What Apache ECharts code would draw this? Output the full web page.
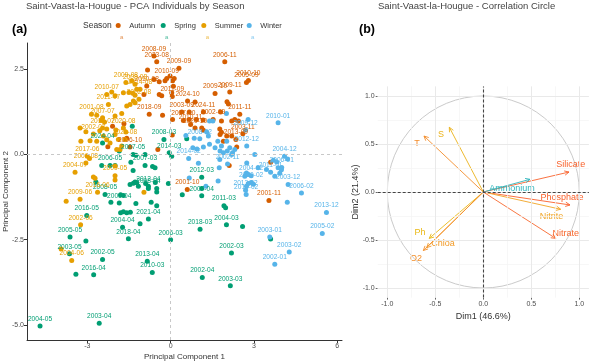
<!DOCTYPE html>
<html>
<head>
<meta charset="utf-8">
<script src="https://cdn.jsdelivr.net/npm/echarts@6/dist/echarts.min.js"></script>
<style>
html, body { margin: 0; padding: 0; background: #fff; }
#chart { width: 589px; height: 364px; }
</style>
</head>
<body>
<div id="chart"></div>
<script>
// PCA individuals: [PC1, PC2, label]
const seasons = ['Autumn', 'Spring', 'Summer', 'Winter'];

const autumnPts = [
  [-0.60, 2.89, '2008-09'], [-0.50, 2.72, '2023-08'], [-0.83, 2.48, ''], [0.30, 2.53, '2009-09'],
  [1.95, 2.72, '2006-11'], [-0.60, 2.20, ''], [-0.41, 2.13, ''], [-0.20, 2.16, ''],
  [-0.14, 2.23, '2010-09'], [-0.02, 2.30, ''], [0.07, 2.16, ''], [0.13, 2.23, ''],
  [-0.86, 2.01, '2010-08'], [0.10, 2.00, ''], [0.04, 1.81, ''], [0.06, 1.70, '2011-09'],
  [-0.96, 1.76, ''], [-0.41, 1.76, ''], [-0.32, 1.72, ''], [-0.77, 1.18, '2018-09'],
  [-0.29, 1.15, ''], [0.07, 1.03, ''], [-1.68, 0.90, ''], [-2.09, 0.83, ''],
  [-1.58, 0.48, ''], [-2.26, 0.23, ''], [-1.46, 0.22, '2006-10'], [-0.46, 0.15, ''],
  [0.06, 0.57, ''], [2.73, 2.11, '2005-09'], [2.80, 2.17, '2010-10'], [1.60, 1.79, '2009-10'],
  [2.13, 1.83, '2009-11'], [2.03, 1.55, ''], [2.08, 1.48, ''], [0.61, 1.57, '2024-10'],
  [0.88, 1.54, ''], [0.40, 1.25, '2003-09'], [0.67, 1.25, ''], [1.18, 1.25, '2024-11'],
  [1.80, 1.25, ''], [2.49, 1.18, '2011-11'], [2.44, 0.98, ''], [0.46, 1.00, '2007-10'],
  [0.67, 1.03, ''], [0.72, 0.88, '2010-11'], [0.93, 1.03, ''], [1.17, 1.01, ''],
  [1.53, 1.03, '2002-09'], [1.83, 0.98, ''], [2.20, 0.98, ''], [2.31, 1.03, ''],
  [0.88, 0.78, '2020-10'], [1.12, 0.78, ''], [1.18, 0.71, ''], [1.77, 0.75, ''],
  [1.83, 0.65, ''], [2.60, 0.61, '2003-11'], [1.78, 0.59, ''], [2.02, 0.54, ''],
  [2.20, 0.54, ''], [2.35, 0.44, '2013-09'], [2.38, 0.22, ''], [1.90, 0.39, ''],
  [2.11, -0.32, ''], [3.60, -0.23, ''], [0.60, -1.03, '2001-10'], [3.54, -1.35, '2001-11']
];

const springPts = [
  [-1.38, 0.83, ''], [-2.45, 0.34, '2024-04'], [-1.85, 0.10, ''], [-1.35, 0.00, '2007-05'],
  [-1.25, -0.02, ''], [-0.92, 0.00, ''], [-0.24, 0.44, '2008-03'], [-0.05, 0.05, '2014-03'],
  [0.04, -0.05, ''], [0.58, 0.46, ''], [-2.48, -0.32, ''], [-2.18, -0.32, '2006-05'],
  [-2.00, -0.32, ''], [-1.43, -0.23, ''], [-1.35, -0.47, ''], [-0.92, -0.32, '2007-03'],
  [-0.65, -0.35, ''], [-0.56, -0.39, ''], [-1.28, -0.81, ''], [-1.22, -0.83, ''],
  [-1.46, -0.88, ''], [-1.16, -0.93, ''], [-0.80, -0.93, '2012-04'], [-0.90, -0.85, ''],
  [-0.50, -1.00, ''], [-0.55, -0.82, ''], [-2.69, -0.81, ''], [-1.34, -0.84, ''],
  [-0.80, -1.00, '2008-04'], [-0.50, -1.10, ''], [-0.08, -0.85, ''], [-2.36, -1.17, '2008-05'],
  [-1.80, -1.18, ''], [-1.70, -1.20, ''], [-1.25, -1.44, ''], [-2.15, -1.40, ''],
  [-1.85, -1.42, '2006-04'], [-0.70, -1.40, ''], [-0.50, -1.50, ''], [-1.80, -1.71, ''],
  [-1.70, -1.68, ''], [-1.58, -1.71, ''], [-1.45, -1.69, ''], [-0.80, -1.89, '2021-04'],
  [-1.10, -2.03, ''], [-1.73, -2.13, '2004-04'], [-3.02, -1.79, '2016-05'], [-3.62, -2.42, '2005-05'],
  [-3.05, -2.54, ''], [-3.64, -2.91, '2003-05'], [-1.52, -2.47, '2018-04'], [0.00, -2.50, '2006-03'],
  [-2.45, -3.08, '2002-05'], [-3.41, -3.51, ''], [-2.77, -3.53, '2016-04'], [-0.84, -3.13, '2013-04'],
  [-0.66, -3.46, '2010-03'], [-4.70, -5.03, '2004-05'], [-2.57, -4.95, '2003-04'], [0.42, -1.18, ''],
  [1.12, -1.21, '2007-04'], [1.92, -1.50, '2011-03'], [1.98, -1.56, ''], [2.01, -2.06, '2004-03'],
  [2.59, -2.11, ''], [1.06, -2.19, '2018-03'], [3.60, -2.48, ''], [2.19, -2.89, '2002-03'],
  [1.14, -3.61, '2002-04'], [2.15, -3.85, '2003-03'], [1.12, -0.67, '2012-03'], [1.12, -1.00, '']
];

const summerPts = [
  [-1.61, 2.11, '2009-08'], [-1.40, 2.16, ''], [-1.28, 2.06, '2008-08'], [-1.70, 1.81, ''],
  [-1.50, 1.82, ''], [-1.36, 1.80, ''], [-2.30, 1.76, '2010-07'], [-2.12, 1.83, ''],
  [-2.00, 1.72, ''], [-1.28, 1.74, ''], [-1.22, 1.91, ''], [-1.10, 1.91, '2014-08'],
  [-1.34, 1.57, ''], [-1.28, 1.52, ''], [-1.14, 1.62, '2002-08'], [-2.24, 1.47, '2011-07'],
  [-1.58, 1.42, ''], [-1.46, 1.47, ''], [-1.76, 1.20, ''], [-2.85, 1.18, '2001-08'],
  [-2.66, 1.15, ''], [-2.50, 1.00, ''], [-2.38, 0.95, ''], [-2.45, 1.08, '2007-07'],
  [-2.00, 1.13, ''], [-2.45, 0.78, '2012-07'], [-2.30, 0.75, ''], [-2.55, 0.70, ''],
  [-3.26, 0.78, ''], [-3.05, 0.67, ''], [-2.78, 0.60, '2002-07'], [-2.42, 0.54, ''],
  [-2.00, 0.59, ''], [-1.97, 0.72, ''], [-1.70, 0.78, '2020-08'], [-1.61, 0.66, ''],
  [-1.88, 0.44, ''], [-1.64, 0.44, '2021-08'], [-3.23, 0.39, ''], [-2.90, 0.40, ''],
  [-2.66, 0.39, ''], [-2.30, 0.43, ''], [-2.18, 0.34, ''], [-1.76, 0.25, ''],
  [-1.94, 0.15, ''], [-1.82, 0.15, ''], [-3.00, -0.05, '2017-06'], [-2.92, -0.12, ''],
  [-3.05, -0.25, '2006-08'], [-3.44, -0.52, '2004-07'], [-2.78, -0.66, ''], [-2.72, -0.70, ''],
  [-2.00, -0.34, ''], [-2.00, -0.62, '2009-05'], [-2.00, -0.75, ''], [-2.63, -1.11, '2016-06'],
  [-3.26, -1.31, '2009-06'], [-3.76, -1.37, ''], [-3.24, -2.06, '2002-06'], [-3.94, -2.77, ''],
  [-3.56, -3.11, '2004-06'], [-0.96, -1.11, '']
];

const winterPts = [
  [3.87, 0.93, '2010-01'], [2.79, 1.03, ''], [2.70, 0.72, '2009-12'], [2.01, 1.20, ''],
  [1.40, 0.98, ''], [1.52, 0.98, ''], [0.55, 0.56, ''], [0.85, 0.48, ''],
  [1.05, 0.46, '2008-02'], [1.30, 0.66, ''], [1.36, 0.54, ''], [1.70, 0.39, ''],
  [1.83, 0.25, ''], [1.60, 0.20, ''], [1.78, 0.10, ''], [1.90, 0.05, ''],
  [2.02, 0.39, ''], [2.13, 0.20, ''], [2.04, 0.10, ''], [2.23, 0.05, ''],
  [2.31, 0.15, ''], [1.18, 0.22, ''], [0.95, 0.16, ''], [1.40, 0.30, ''],
  [2.74, 0.25, '2012-12'], [3.03, 0.00, ''], [4.10, -0.05, '2004-12'], [3.70, -0.17, ''],
  [3.82, -0.22, ''], [4.00, -0.38, '2006-01'], [4.21, -0.13, ''], [2.20, 0.00, ''],
  [1.77, -0.15, ''], [2.05, -0.28, '2002-11'], [1.75, -0.39, ''], [2.74, -0.25, ''],
  [2.90, -0.62, '2004-02'], [3.15, -0.39, ''], [3.60, -0.52, '2011-01'], [3.45, -0.44, ''],
  [3.87, -0.39, ''], [3.99, -0.45, ''], [3.93, -0.55, ''], [3.75, -0.64, ''],
  [2.73, -0.54, ''], [2.67, -0.64, ''], [2.79, -0.59, ''], [2.90, -0.82, '2020-02'],
  [2.70, -1.05, '2013-02'], [2.73, -0.93, ''], [4.23, -0.88, '2003-12'], [4.71, -1.13, '2006-02'],
  [1.71, -0.78, ''], [0.67, -0.69, ''], [1.27, -0.93, ''], [2.72, -1.17, '2015-02'],
  [2.80, -0.85, ''], [2.98, -0.87, ''], [4.20, -1.40, ''], [5.61, -1.70, '2013-12'],
  [5.46, -2.32, '2005-02'], [3.57, -2.42, '2003-01'], [4.27, -2.86, '2003-02'], [3.75, -3.22, '2002-01'],
  [0.80, 0.20, ''], [1.00, -0.26, ''], [0.65, -0.12, '2014-02']
];

const pc1Ticks = [-3, 0, 3, 6];
const pc2Ticks = [2.5, 0, -2.5, -5];
const dimTicks = [-1, -0.5, 0, 0.5, 1];
const dimMinor = [-0.75, -0.25, 0.25, 0.75];

// correlation circle variables
const varNames = ['Silicate', 'Ammonium', 'Phosphate', 'Nitrite', 'Nitrate', 'T', 'S', 'Ph', 'Chloa', 'O2'];
const varDim1  = [0.893, 0.486, 0.903, 0.806, 0.754, -0.618, -0.354, -0.563, -0.590, -0.625];
const varDim2  = [0.208, 0.132, -0.135, -0.180, -0.483, 0.583, 0.674, -0.483, -0.580, -0.610];
const varLabX  = [0.91, 0.30, 0.82, 0.71, 0.86, -0.69, -0.44, -0.66, -0.42, -0.70];
const varLabY  = [0.29, 0.04, -0.06, -0.26, -0.43, 0.51, 0.60, -0.42, -0.535, -0.69];

const seasonColors = { Autumn: '#D55E00', Spring: '#009E73', Summer: '#E69F00', Winter: '#56B4E9' };
const varColors = {
  Silicate: '#F8622C', Ammonium: '#2FB4BC', Phosphate: '#F9602B', Nitrite: '#F0A424',
  Nitrate: '#F7682E', T: '#F38C2A', S: '#EBB21A', Ph: '#EAB814', Chloa: '#F29A26', O2: '#F4902B'
};
const FONT = 'Liberation Sans, Arial, sans-serif';

const seasonData = { Autumn: autumnPts, Spring: springPts, Summer: summerPts, Winter: winterPts };

const chart = echarts.init(document.getElementById('chart'), null, { renderer: 'canvas' });

const scatterSeries = seasons.map(s => ({
  name: s,
  type: 'scatter',
  xAxisIndex: 0,
  yAxisIndex: 0,
  symbolSize: 5,
  itemStyle: { color: seasonColors[s], opacity: 1 },
  label: {
    show: true, position: 'top', distance: 1, formatter: '{b}',
    fontSize: 6.6, color: seasonColors[s], fontFamily: FONT
  },
  emphasis: { disabled: true },
  data: seasonData[s].map(p => ({
    value: [p[0], p[1]], name: p[2],
    label: { show: p[2] !== '' }
  }))
}));

// dashed reference lines for panel (a)
scatterSeries[0].markLine = {
  silent: true, symbol: 'none', animation: false,
  label: { show: false },
  lineStyle: { color: '#C8C8C8', type: [3, 3], width: 1 },
  data: [{ xAxis: 0 }, { yAxis: 0 }]
};

const gridLineSeries = {
  type: 'scatter', xAxisIndex: 1, yAxisIndex: 1, symbolSize: 0, silent: true,
  data: [[0, 0]],
  markLine: {
    silent: true, symbol: 'none', animation: false, label: { show: false },
    data: [].concat(
      dimMinor.map(v => ({ xAxis: v, lineStyle: { color: '#F3F3F3', width: 0.7, type: 'solid' } })),
      dimMinor.map(v => ({ yAxis: v, lineStyle: { color: '#F3F3F3', width: 0.7, type: 'solid' } })),
      dimTicks.map(v => ({ xAxis: v, lineStyle: { color: '#E9E9E9', width: 1, type: 'solid' } })),
      dimTicks.map(v => ({ yAxis: v, lineStyle: { color: '#E9E9E9', width: 1, type: 'solid' } }))
    )
  }
};

const circleSeries = {
  type: 'custom', xAxisIndex: 1, yAxisIndex: 1, silent: true,
  data: [[0, 0]],
  renderItem: (params, api) => {
    const c = api.coord([0, 0]);
    const r = api.size([1, 1])[0];
    return { type: 'circle', shape: { cx: c[0], cy: c[1], r: r },
      style: { stroke: '#C4C4C4', fill: null, lineWidth: 0.9 } };
  }
};

const zeroLineSeries = {
  type: 'scatter', xAxisIndex: 1, yAxisIndex: 1, symbolSize: 0, silent: true,
  data: [[0, 0]],
  markLine: {
    silent: true, symbol: 'none', animation: false, label: { show: false },
    lineStyle: { color: '#444', type: [3, 2], width: 1.1 },
    data: [{ xAxis: 0 }, { yAxis: 0 }]
  }
};

const arrowSeries = {
  type: 'custom', xAxisIndex: 1, yAxisIndex: 1, silent: true,
  data: varNames.map((n, i) => [varDim1[i], varDim2[i], i]),
  renderItem: (params, api) => {
    const i = api.value(2);
    const name = varNames[i];
    const col = varColors[name];
    const o = api.coord([0, 0]);
    const t = api.coord([api.value(0), api.value(1)]);
    const ang = Math.atan2(t[1] - o[1], t[0] - o[0]);
    const L = 5, a = Math.PI / 7;
    const p1 = [t[0] - L * Math.cos(ang - a), t[1] - L * Math.sin(ang - a)];
    const p2 = [t[0] - L * Math.cos(ang + a), t[1] - L * Math.sin(ang + a)];
    const lp = api.coord([varLabX[i], varLabY[i]]);
    return {
      type: 'group',
      children: [
        { type: 'line', shape: { x1: o[0], y1: o[1], x2: t[0], y2: t[1] }, style: { stroke: col, lineWidth: 0.9 } },
        { type: 'polyline', shape: { points: [p1, t, p2] }, style: { stroke: col, fill: null, lineWidth: 0.9 } },
        { type: 'text', x: lp[0], y: lp[1], style: { text: name, fill: col, fontSize: 9, fontFamily: FONT,
            align: 'center', verticalAlign: 'middle' } }
      ]
    };
  }
};

// one legend per season so each key sits where the reference puts it
const legendKeyX = [121.7, 166.7, 207.3, 252.7];
const legends = seasons.map((s, i) => ({
  data: [s],
  left: legendKeyX[i] - 6, top: 21.5,
  icon: 'circle', itemWidth: 12, itemHeight: 5, padding: 0,
  selectedMode: false,
  textStyle: { fontSize: 7.5, color: '#333', fontFamily: FONT }
}));

const nameStyle = size => ({ fontSize: size, color: '#333', fontFamily: FONT });

chart.setOption({
  animation: false,
  backgroundColor: '#fff',
  textStyle: { fontFamily: FONT },
  legend: legends,
  graphic: [
    { type: 'text', left: 26, top: 1, style: { text: 'Saint-Vaast-la-Hougue - PCA Individuals by Season', fontSize: 9.5, fill: '#444', fontFamily: FONT } },
    { type: 'text', left: 378, top: 1, style: { text: 'Saint-Vaast-la-Hougue - Correlation Circle', fontSize: 9.5, fill: '#444', fontFamily: FONT } },
    { type: 'text', left: 12, top: 23, style: { text: '(a)', fontSize: 12.5, fontWeight: 'bold', fill: '#000', fontFamily: FONT } },
    { type: 'text', left: 359, top: 23, style: { text: '(b)', fontSize: 12.5, fontWeight: 'bold', fill: '#000', fontFamily: FONT } },
    { type: 'text', left: 83, top: 21, style: { text: 'Season', fontSize: 8.5, fill: '#333', fontFamily: FONT } }
  ].concat(seasons.map((s, i) => ({
    type: 'text', x: legendKeyX[i], y: 37,
    style: { text: 'a', fontSize: 6, fill: seasonColors[s], align: 'center', verticalAlign: 'middle', fontFamily: FONT, opacity: 0.7 }
  }))),
  grid: [
    { left: 27, top: 43, width: 315, height: 297, outerBoundsMode: 'none', containLabel: false },
    { left: 377.7, top: 86.4, width: 211.2, height: 211.2, outerBoundsMode: 'none', containLabel: false }
  ],
  xAxis: [
    {
      type: 'value', gridIndex: 0, min: -5.17, max: 6.17,
      name: 'Principal Component 1', nameLocation: 'middle', nameGap: 13, nameMoveOverlap: false,
      nameTextStyle: nameStyle(8),
      axisLine: { show: true, onZero: false, lineStyle: { color: '#333', width: 1 } },
      axisTick: { show: true, length: 3, customValues: pc1Ticks, lineStyle: { color: '#333' } },
      axisLabel: { customValues: pc1Ticks, fontSize: 7, color: '#4D4D4D', margin: 3, fontFamily: FONT },
      splitLine: { show: false }
    },
    {
      type: 'value', gridIndex: 1, min: -1.1, max: 1.1,
      name: 'Dim1 (46.6%)', nameLocation: 'middle', nameGap: 14, nameMoveOverlap: false,
      nameTextStyle: nameStyle(9),
      axisLine: { show: false, onZero: false },
      axisTick: { show: true, length: 2, customValues: dimTicks, lineStyle: { color: '#666' } },
      axisLabel: { customValues: dimTicks, fontSize: 7, color: '#4D4D4D', margin: 3, fontFamily: FONT,
        formatter: v => v.toFixed(1) },
      splitLine: { show: false }
    }
  ],
  yAxis: [
    {
      type: 'value', gridIndex: 0, min: -5.44, max: 3.27,
      name: 'Principal Component 2', nameLocation: 'middle', nameGap: 17.5, nameMoveOverlap: false,
      nameTextStyle: nameStyle(8),
      axisLine: { show: true, onZero: false, lineStyle: { color: '#333', width: 1 } },
      axisTick: { show: true, length: 3, customValues: pc2Ticks, lineStyle: { color: '#333' } },
      axisLabel: { customValues: pc2Ticks, fontSize: 7, color: '#4D4D4D', margin: 3, fontFamily: FONT,
        formatter: v => v.toFixed(1) },
      splitLine: { show: false }
    },
    {
      type: 'value', gridIndex: 1, min: -1.1, max: 1.1,
      name: 'Dim2 (21.4%)', nameLocation: 'middle', nameGap: 18, nameMoveOverlap: false,
      nameTextStyle: nameStyle(9),
      axisLine: { show: false, onZero: false },
      axisTick: { show: true, length: 2, customValues: dimTicks, lineStyle: { color: '#666' } },
      axisLabel: { customValues: dimTicks, fontSize: 7, color: '#4D4D4D', margin: 3, fontFamily: FONT,
        formatter: v => v.toFixed(1) },
      splitLine: { show: false }
    }
  ],
  series: scatterSeries.concat([gridLineSeries, circleSeries, zeroLineSeries, arrowSeries])
});
</script>
</body>
</html>
